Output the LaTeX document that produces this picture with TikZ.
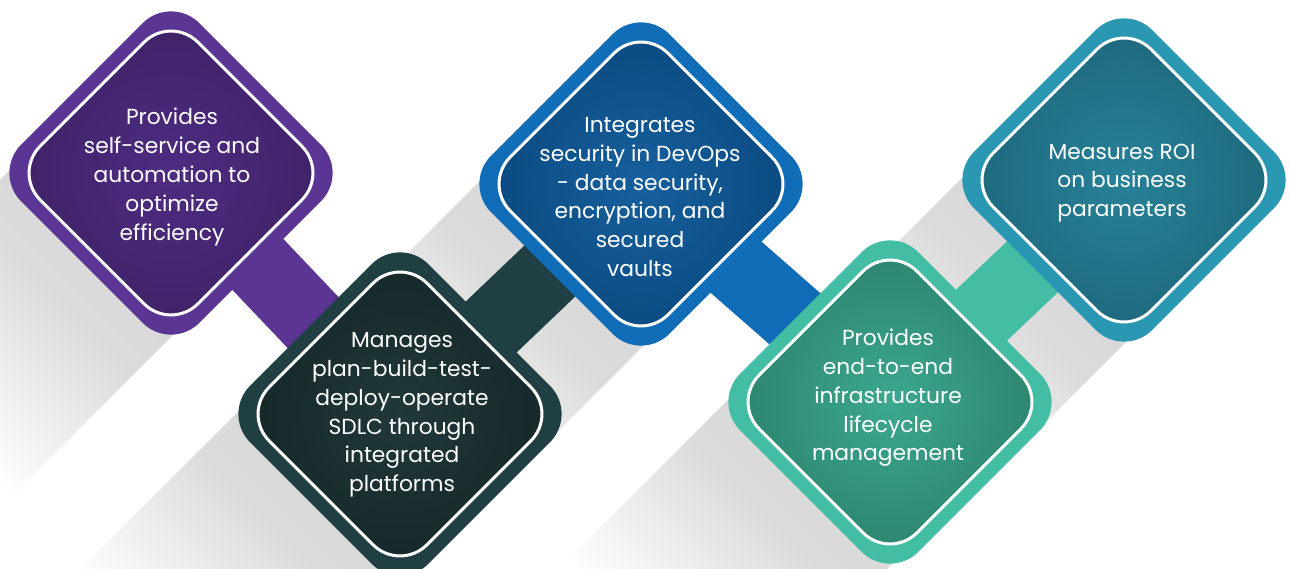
\documentclass[tikz,border=0pt]{standalone}
\usepackage{fontspec}
\setmainfont{Poppins}
\pgfdeclarelayer{shadowlayer}
\pgfdeclarelayer{barlayer}
\pgfsetlayers{shadowlayer,barlayer,main}
\definecolor{purpO}{HTML}{5B3594}
\definecolor{purpC}{HTML}{4E2C82}
\definecolor{purpE}{HTML}{3F2266}
\definecolor{darkO}{HTML}{1F3F42}
\definecolor{darkC}{HTML}{21383A}
\definecolor{darkE}{HTML}{152729}
\definecolor{blueO}{HTML}{106CB7}
\definecolor{blueC}{HTML}{16609D}
\definecolor{blueE}{HTML}{0B4980}
\definecolor{tealO}{HTML}{43BEA5}
\definecolor{tealC}{HTML}{3CA88F}
\definecolor{tealE}{HTML}{2C836E}
\definecolor{cyanO}{HTML}{2A97B3}
\definecolor{cyanC}{HTML}{278198}
\definecolor{cyanE}{HTML}{1E687D}
\pgfdeclarehorizontalshading{shfade}{100bp}{color(0bp)=(black!17); color(25bp)=(black!17); color(50bp)=(black!14); color(75bp)=(black!1); color(100bp)=(black!1)}
\begin{document}
\begin{tikzpicture}[x=1pt,y=1pt,
  dout/.style={rectangle, rotate=45, minimum size=252pt, inner sep=0pt, rounded corners=40pt, draw=none},
  din/.style={rectangle, rotate=45, minimum size=223pt, inner sep=0pt, rounded corners=38pt, draw=white, line width=3pt},
  txt/.style={text=white, align=center, font=\fontsize{21.8}{28.8}\selectfont, inner sep=0pt},
  bar/.style={line width=72pt},
  shadowband/.style={shading=shfade}]
\useasboundingbox (0,0) rectangle (1290,-569);
\clip (0,0) rectangle (1290,-569);

% centres
\coordinate (c1) at (171,-173);
\coordinate (c2) at (400,-414);
\coordinate (c3) at (641,-184);
\coordinate (c4) at (890,-402);
\coordinate (c5) at (1124,-180);

% background and shadows
\begin{pgfonlayer}{shadowlayer}
\fill[white] (0,0) rectangle (1290,-569);
\foreach \cx/\cy in {171/-173, 641/-184, 1124/-180, 400/-414, 890/-402}{
  \begin{scope}[transform canvas={shift={(\cx,\cy)},rotate=225}]
    \shade[shadowband] (0,-116) rectangle (335,116);
  \end{scope}
}
\end{pgfonlayer}

% diamonds
\node[dout, fill=purpO] (d1) at (c1) {};
\node[din, inner color=purpC, outer color=purpE] (d1i) at (d1.center) {};
\node[txt] (t1) at (172,-177) {Provides\\self-service and\\automation to\\optimize\\efficiency};

\node[dout, fill=darkO] (d2) at (c2) {};
\node[din, inner color=darkC, outer color=darkE] (d2i) at (d2.center) {};
\node[txt] (t2) at (402,-415) {Manages\\plan-build-test-\\deploy-operate\\SDLC through\\integrated\\platforms};

\node[dout, fill=blueO] (d3) at (c3) {};
\node[din, inner color=blueC, outer color=blueE] (d3i) at (d3.center) {};
\node[txt] (t3) at (640,-197) {Integrates\\security in DevOps\\- data security,\\encryption, and\\secured\\vaults};

\node[dout, fill=tealO] (d4) at (c4) {};
\node[din, inner color=tealC, outer color=tealE] (d4i) at (d4.center) {};
\node[txt] (t4) at (888,-398) {Provides\\end-to-end\\infrastructure\\lifecycle\\management};

\node[dout, fill=cyanO] (d5) at (c5) {};
\node[din, inner color=cyanC, outer color=cyanE] (d5i) at (d5.center) {};
\node[txt] (t5) at (1122,-183) {Measures ROI\\on business\\parameters};

% connecting bars
\begin{pgfonlayer}{barlayer}
\draw[bar, draw=purpO] (d1.center) -- (d2.center);
\draw[bar, draw=darkO] (d2.center) -- (d3.center);
\draw[bar, draw=blueO] (d3.center) -- (d4.center);
\draw[bar, draw=tealO] (d4.center) -- (d5.center);
\end{pgfonlayer}
\end{tikzpicture}
\end{document}
